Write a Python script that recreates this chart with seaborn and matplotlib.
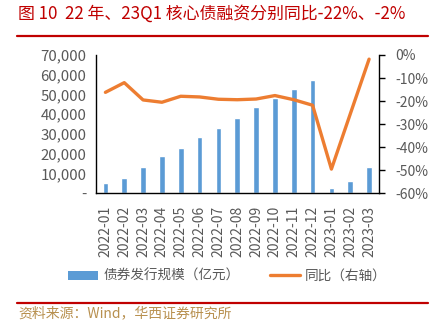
import matplotlib
matplotlib.use("Agg")
import matplotlib.pyplot as plt
import seaborn as sns
import pandas as pd
import numpy as np
from matplotlib.ticker import FuncFormatter, MultipleLocator
from matplotlib.lines import Line2D
from matplotlib.patches import Patch

months = ["2022-01", "2022-02", "2022-03", "2022-04", "2022-05", "2022-06", "2022-07",
          "2022-08", "2022-09", "2022-10", "2022-11", "2022-12", "2023-01", "2023-02", "2023-03"]
issuance = [5400, 7600, 13500, 19000, 22900, 28500, 32900, 38300, 43700, 48400,
            52800, 57200, 2500, 6100, 13200]
yoy = [-16.2, -12.0, -19.5, -20.5, -17.9, -18.2, -19.2, -19.4, -19.1, -17.6,
       -19.4, -21.8, -49.5, -25.6, -1.8]

sns.set_theme(style="white")
plt.rcParams['font.family'] = ['Noto Sans CJK SC', 'DejaVu Sans']
plt.rcParams['axes.unicode_minus'] = False

BLUE = "#5B9BD5"
ORANGE = "#ED7D31"
GRAY = "#595959"
RED = "#C00000"

df = pd.DataFrame({"month": months, "issuance": issuance, "yoy": yoy})

fig = plt.figure(figsize=(4.4, 3.26), dpi=100)
ax = fig.add_axes([96/440, 1-193.3/326, (378.5-96)/440, (193.3-55)/326])
sns.barplot(data=df, x="month", y="issuance", color=BLUE, width=0.3, ax=ax, saturation=1)
ax.set_xlim(-0.5, len(months)-0.5)
ax.set_ylim(0, 70000)
ax.yaxis.set_major_locator(MultipleLocator(10000))
ax.yaxis.set_major_formatter(FuncFormatter(lambda v, p: "-" if v == 0 else f"{int(v):,}"))
ax.set_xlabel("")
ax.set_ylabel("")
for s in ["top", "right"]:
    ax.spines[s].set_visible(False)
for s in ["left", "bottom"]:
    ax.spines[s].set_color("black")
    ax.spines[s].set_linewidth(1.0)
ax.tick_params(axis="y", length=0, labelsize=10.8, labelcolor=GRAY, pad=7)
ax.set_xticks(np.arange(len(months)))
ax.set_xticklabels(months, rotation=90, fontsize=10, color=GRAY)
ax.tick_params(axis="x", length=0, pad=9)
ax.set_xticks(np.arange(-0.5, len(months)), minor=True)
ax.tick_params(axis="x", which="minor", length=4, width=1, color="black", direction="out")

ax2 = ax.twinx()
sns.lineplot(x=np.arange(len(months)), y=yoy, color=ORANGE, linewidth=2.4, ax=ax2)
ax2.set_ylim(-60, 0)
ax2.yaxis.set_major_locator(MultipleLocator(10))
ax2.yaxis.set_major_formatter(FuncFormatter(lambda v, p: f"{int(round(v))}%"))
for s in ["top", "left", "bottom"]:
    ax2.spines[s].set_visible(False)
ax2.spines["right"].set_color("black")
ax2.spines["right"].set_linewidth(1.0)
ax2.tick_params(axis="y", length=4, width=1, color="black", direction="out",
                labelsize=10, labelcolor=GRAY, pad=8)
ax2.set_ylabel("")

# title and rules
fig.text(18/440, 1-14/326, "图 10  22 年、23Q1 核心债融资分别同比-22%、-2%",
         color=RED, fontsize=12.2, va="center", ha="left")
fig.add_artist(Line2D([17/440, 428/440], [1-36/326, 1-36/326], color=RED, linewidth=1.6))
fig.add_artist(Line2D([17/440, 428/440], [1-302.5/326, 1-302.5/326], color=RED, linewidth=1.6))
fig.text(18/440, 1-313/326, "资料来源：Wind，华西证券研究所", color="#B8904F",
         fontsize=10, va="center", ha="left")

handles = [Patch(facecolor=BLUE, edgecolor="none"),
           Line2D([0], [0], color=ORANGE, linewidth=2.4)]
labels = ["债券发行规模（亿元）", "同比（右轴）"]
fig.legend(handles, labels, loc="center", bbox_to_anchor=(0.517, 1-276/326), ncol=2,
           frameon=False, fontsize=9.8, labelcolor=GRAY, handlelength=2.2,
           handleheight=0.6, columnspacing=2.2, handletextpad=0.4)

fig.savefig("out.png", dpi=100)
